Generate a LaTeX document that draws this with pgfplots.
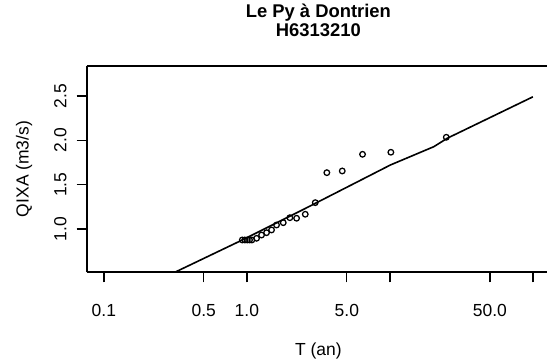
\documentclass[border=0pt]{standalone}
\usepackage{graphicx}
\usepackage{pgfplots}
\pgfplotsset{compat=1.18}
\usepackage{fontspec}
\setmainfont{Liberation Sans}

% observed points (T in years, QIXA in m3/s)
\pgfplotstableread{
T      Q
0.929  0.876
0.968  0.876
1.007  0.876
1.044  0.876
1.084  0.876
1.169  0.895
1.267  0.932
1.373  0.958
1.488  0.989
1.613  1.045
1.797  1.071
1.999  1.127
2.227  1.121
2.561  1.166
3.008  1.297
3.625  1.635
4.645  1.654
6.44   1.842
10.16  1.865
24.8   2.034
}\obs

% fitted law
\pgfplotstableread{
T      Q
0.30   0.497
0.929  0.876
2.574  1.233
10.1   1.722
20.3   1.928
25.2   2.023
100    2.49
}\fit

\begin{document}
\begin{tikzpicture}
\begin{semilogxaxis}[
  scale only axis,
  width=347.5pt, height=155pt,
  xmin=0.0759, xmax=131.8,
  ymin=0.5117, ymax=2.8417,
  axis lines*=left,
  axis line style={line width=1.4pt},
  tick style={line width=1pt, black},
  tick align=outside,
  major tick length=7.5pt,
  xtick pos=bottom, ytick pos=left,
  minor xtick={}, xminorticks=false,
  xtick={0.1,0.5,1,5,10,50,100},
  xticklabels={0.1,0.5,1.0,5.0,,50.0,},
  ytick={1,1.5,2,2.5},
  yticklabels={\rotatebox{90}{1.0},\rotatebox{90}{1.5},\rotatebox{90}{2.0},\rotatebox{90}{2.5}},
  ticklabel style={font=\fontsize{13.1}{15}\selectfont, inner sep=0pt},
  xticklabel style={anchor=north},
  yticklabel style={anchor=east},
  xticklabel shift=16pt,
  yticklabel shift=7.5pt,
  xlabel={T (an)},
  ylabel={QIXA (m3/s)},
  label style={font=\fontsize{13.1}{15}\selectfont},
  xlabel style={at={(axis description cs:0.5,-0.381)}, anchor=center},
  ylabel style={at={(axis description cs:-0.1353,0.5)}, anchor=center, rotate=0},
  title={Le Py à Dontrien\\H6313210},
  title style={at={(axis description cs:0.5,1.1825)}, anchor=center, align=center,
    font=\bfseries\fontsize{13.8}{14.25}\selectfont},
]
\addplot[black, line width=1.2pt] table[x=T, y=Q] {\fit};
\addplot[only marks, mark=o, mark size=2.1pt, mark options={line width=0.95pt, black}] table[x=T, y=Q] {\obs};
% top frame line; the right side of the box falls outside the picture
\draw[line width=1.4pt] (rel axis cs:0,1) -- (rel axis cs:1,1);
\end{semilogxaxis}
\pgfresetboundingbox
\path (-65.03pt,-67.28pt) rectangle (345.22pt,204.22pt);
\end{tikzpicture}
\end{document}
